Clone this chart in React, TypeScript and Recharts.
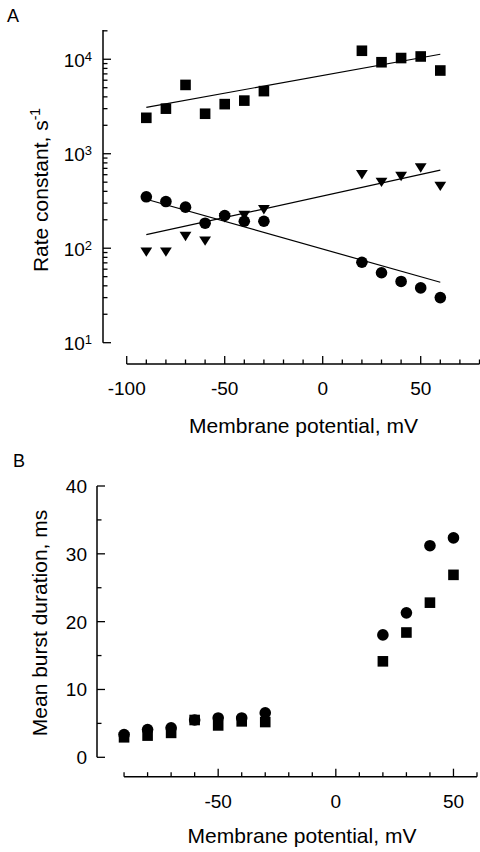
import { ComposedChart, Scatter, XAxis, YAxis, ReferenceLine, Label } from "recharts";

const FONT = "'Liberation Sans', Arial, Helvetica, sans-serif";

// Panel A: rate constants vs membrane potential
const voltsA = [-90, -80, -70, -60, -50, -40, -30, 20, 30, 40, 50, 60];
const squaresA = [2400, 3000, 5350, 2650, 3350, 3650, 4600, 12300, 9300, 10300, 10700, 7600];
const trianglesA = [91, 91, 133, 119, 210, 222, 255, 600, 498, 575, 706, 451];
const circlesA = [350, 312, 272, 184, 222, 193, 193, 71, 55, 44.5, 38, 30];
const fitVoltsA = [-90, 60];
const fitSquaresA = [3100, 11300];
const fitTrianglesA = [139, 671];
const fitCirclesA = [330, 43.6];
const xTicksA = [-100, -90, -80, -70, -60, -50, -40, -30, -20, -10, 0, 10, 20, 30, 40, 50, 60, 70, 80];
const xLabelsA = [-100, -50, 0, 50];
const yTicksA = [
  10, 20, 30, 40, 50, 60, 70, 80, 90,
  100, 200, 300, 400, 500, 600, 700, 800, 900,
  1000, 2000, 3000, 4000, 5000, 6000, 7000, 8000, 9000,
  10000, 20000,
];
const yDecadesA = [10, 100, 1000, 10000];

// Panel B: mean burst duration vs membrane potential
const voltsB = [-90, -80, -70, -60, -50, -40, -30, 20, 30, 40, 50];
const circlesB = [3.35, 4.1, 4.35, 5.5, 5.8, 5.8, 6.55, 18.05, 21.3, 31.2, 32.35];
const squaresB = [2.95, 3.2, 3.6, 5.5, 4.7, 5.3, 5.2, 14.15, 18.4, 22.8, 26.9];
const xTicksB = [-90, -80, -70, -60, -50, -40, -30, -20, -10, 0, 10, 20, 30, 40, 50, 60];
const xLabelsB = [-50, 0, 50];
const yTicksB = [0, 5, 10, 15, 20, 25, 30, 35, 40];
const yLabelsB = [0, 10, 20, 30, 40];

const pts = (xs: number[], ys: number[]) => xs.map((x, i) => ({ x, y: ys[i] }));

const Square = ({ cx, cy }: any) => (
  <rect x={cx - 5.3} y={cy - 5.3} width={10.6} height={10.6} fill="#000" />
);
const Dot = ({ cx, cy }: any) => <circle cx={cx} cy={cy} r={5.8} fill="#000" />;
const DownTri = ({ cx, cy }: any) => (
  <polygon
    points={`${cx - 5.9},${cy - 4.7} ${cx + 5.9},${cy - 4.7} ${cx},${cy + 4.7}`}
    fill="#000"
  />
);
const NoDot = () => <g />;

// axis positions (px inside each svg)
const A_AXIS_X = 103;
const A_AXIS_Y = 364;
const B_AXIS_X = 97;
const B_AXIS_Y = 336.7;

const XTickA = ({ x, payload }: any) => {
  const major = xLabelsA.includes(payload.value);
  return (
    <g>
      <line x1={x} x2={x} y1={A_AXIS_Y} y2={A_AXIS_Y - (major ? 8 : 4.5)} stroke="#000" strokeWidth={1.3} />
      {major && (
        <text x={x} y={395} textAnchor="middle" fontSize={19} fontFamily={FONT} fill="#000">
          {payload.value}
        </text>
      )}
    </g>
  );
};

const YTickA = ({ y, payload }: any) => {
  const v = payload.value;
  const major = yDecadesA.includes(v);
  return (
    <g>
      <line x1={A_AXIS_X} x2={A_AXIS_X + (major ? 8 : 4.5)} y1={y} y2={y} stroke="#000" strokeWidth={1.3} />
      {major && (
        <text x={92} y={y + 7.4} textAnchor="end" fontSize={19} fontFamily={FONT} fill="#000">
          <tspan>10</tspan>
          <tspan dy={-6} fontSize={13}>
            {Math.round(Math.log10(v))}
          </tspan>
        </text>
      )}
    </g>
  );
};

const XTickB = ({ x, payload }: any) => {
  const major = xLabelsB.includes(payload.value);
  return (
    <g>
      <line x1={x} x2={x} y1={B_AXIS_Y} y2={B_AXIS_Y - (major ? 8 : 4.5)} stroke="#000" strokeWidth={1.3} />
      {major && (
        <text x={x} y={368} textAnchor="middle" fontSize={19} fontFamily={FONT} fill="#000">
          {payload.value}
        </text>
      )}
    </g>
  );
};

const YTickB = ({ y, payload }: any) => {
  const major = yLabelsB.includes(payload.value);
  return (
    <g>
      <line x1={B_AXIS_X} x2={B_AXIS_X + (major ? 8 : 4.5)} y1={y} y2={y} stroke="#000" strokeWidth={1.3} />
      {major && (
        <text x={87} y={y + 7} textAnchor="end" fontSize={19} fontFamily={FONT} fill="#000">
          {payload.value}
        </text>
      )}
    </g>
  );
};

const fitLine = { stroke: "#000", strokeWidth: 1.2 };

function PanelA() {
  return (
    <ComposedChart width={480} height={440} margin={{ top: 30, right: 0.5, bottom: 16, left: 23 }}>
      <XAxis
        type="number"
        dataKey="x"
        domain={[-112.1, 80]}
        allowDataOverflow
        ticks={xTicksA}
        interval={0}
        axisLine={false}
        tickLine={false}
        tick={XTickA}
        height={60}
      >
        <Label
          content={() => (
            <text x={303.5} y={433} textAnchor="middle" fontSize={21} fontFamily={FONT} fill="#000">
              Membrane potential, mV
            </text>
          )}
        />
      </XAxis>
      <YAxis
        type="number"
        dataKey="y"
        scale="log"
        domain={[5.95, 20400]}
        allowDataOverflow
        ticks={yTicksA}
        interval={0}
        axisLine={false}
        tickLine={false}
        tick={YTickA}
        width={80}
      >
        <Label
          content={() => (
            <g>
              <text x={7} y={22} fontSize={18} fontFamily={FONT} fill="#000">
                A
              </text>
              <text
                x={48}
                y={190}
                transform="rotate(-90, 48, 190)"
                textAnchor="middle"
                fontSize={21}
                fontFamily={FONT}
                fill="#000"
              >
                Rate constant, s
                <tspan dy={-8} fontSize={14}>
                  -1
                </tspan>
              </text>
            </g>
          )}
        />
      </YAxis>
      <ReferenceLine
        segment={[{ x: -112.1, y: 10 }, { x: -112.1, y: 20400 }]}
        stroke="#000"
        strokeWidth={1.5}
        ifOverflow="visible"
      />
      <ReferenceLine
        segment={[{ x: -100, y: 5.95 }, { x: 80, y: 5.95 }]}
        stroke="#000"
        strokeWidth={1.5}
        ifOverflow="visible"
      />
      <Scatter data={pts(fitVoltsA, fitSquaresA)} line={fitLine} shape={NoDot} isAnimationActive={false} />
      <Scatter data={pts(fitVoltsA, fitTrianglesA)} line={fitLine} shape={NoDot} isAnimationActive={false} />
      <Scatter data={pts(fitVoltsA, fitCirclesA)} line={fitLine} shape={NoDot} isAnimationActive={false} />
      <Scatter data={pts(voltsA, squaresA)} shape={Square} isAnimationActive={false} />
      <Scatter data={pts(voltsA, trianglesA)} shape={DownTri} isAnimationActive={false} />
      <Scatter data={pts(voltsA, circlesA)} shape={Dot} isAnimationActive={false} />
    </ComposedChart>
  );
}

function PanelB() {
  return (
    <ComposedChart width={480} height={412} margin={{ top: 46, right: 3, bottom: 15.3, left: 17 }}>
      <XAxis
        type="number"
        dataKey="x"
        domain={[-101.5, 60]}
        allowDataOverflow
        ticks={xTicksB}
        interval={0}
        axisLine={false}
        tickLine={false}
        tick={XTickB}
        height={60}
      >
        <Label
          content={() => (
            <text x={302} y={403} textAnchor="middle" fontSize={21} fontFamily={FONT} fill="#000">
              Membrane potential, mV
            </text>
          )}
        />
      </XAxis>
      <YAxis
        type="number"
        dataKey="y"
        domain={[-2.86, 40]}
        allowDataOverflow
        ticks={yTicksB}
        interval={0}
        axisLine={false}
        tickLine={false}
        tick={YTickB}
        width={80}
      >
        <Label
          content={() => (
            <g>
              <text x={13} y={26.7} fontSize={18} fontFamily={FONT} fill="#000">
                B
              </text>
              <text
                x={47}
                y={183}
                transform="rotate(-90, 47, 183)"
                textAnchor="middle"
                fontSize={21}
                fontFamily={FONT}
                fill="#000"
              >
                Mean burst duration, ms
              </text>
            </g>
          )}
        />
      </YAxis>
      <ReferenceLine
        segment={[{ x: -101.5, y: 0 }, { x: -101.5, y: 40 }]}
        stroke="#000"
        strokeWidth={1.5}
        ifOverflow="visible"
      />
      <ReferenceLine
        segment={[{ x: -90, y: -2.86 }, { x: 60, y: -2.86 }]}
        stroke="#000"
        strokeWidth={1.5}
        ifOverflow="visible"
      />
      <Scatter data={pts(voltsB, squaresB)} shape={Square} isAnimationActive={false} />
      <Scatter data={pts(voltsB, circlesB)} shape={Dot} isAnimationActive={false} />
    </ComposedChart>
  );
}

export default function App() {
  return (
    <div style={{ position: "absolute", left: 0, top: 0, width: 480, height: 852, background: "#fff" }}>
      <div style={{ position: "absolute", left: 0, top: 0 }}>
        <PanelA />
      </div>
      <div style={{ position: "absolute", left: 0, top: 440 }}>
        <PanelB />
      </div>
    </div>
  );
}
